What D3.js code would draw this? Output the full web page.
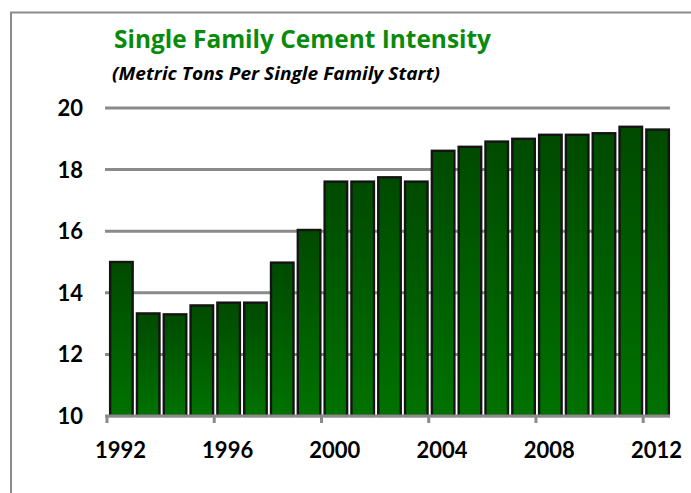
<!DOCTYPE html>
<html>
<head>
<meta charset="utf-8">
<script src="https://cdn.jsdelivr.net/npm/d3@7"></script>
<style>
  body { margin: 0; background: #fff; }
  svg { display: block; }
</style>
</head>
<body>
<div id="chart"></div>
<script>
const years = d3.range(1992, 2013).map(String);
const intensity = [15.0, 13.33, 13.3, 13.59, 13.68, 13.68, 14.98, 16.04, 17.61, 17.61,
  17.75, 17.61, 18.61, 18.74, 18.91, 19.0, 19.13, 19.13, 19.18, 19.39, 19.3];
const yTicks = [10, 12, 14, 16, 18, 20];
const xLabels = ['1992', '1996', '2000', '2004', '2008', '2012'];

const width = 691;
const height = 493;
const margin = { top: 108, right: 21, bottom: 77, left: 107 };

const svg = d3.select('#chart')
  .append('svg')
  .attr('width', width)
  .attr('height', height);

const defs = svg.append('defs');
const grad = defs.append('linearGradient')
  .attr('id', 'barGrad')
  .attr('x1', 0).attr('x2', 0)
  .attr('y1', 0).attr('y2', 1);
grad.append('stop').attr('offset', '0%').attr('stop-color', '#004a00');
grad.append('stop').attr('offset', '100%').attr('stop-color', '#007200');

// outer frame (only left and top edges visible)
svg.append('rect')
  .attr('x', 11).attr('y', 12.5)
  .attr('width', width + 20).attr('height', height + 20)
  .attr('fill', 'none')
  .attr('stroke', '#8c8c8c')
  .attr('stroke-width', 2);

const x = d3.scaleBand()
  .domain(years)
  .range([margin.left, width - margin.right])
  .paddingInner(0.16)
  .paddingOuter(0.08);

const y = d3.scaleLinear()
  .domain([10, 20])
  .range([height - margin.bottom, margin.top]);

// gridlines
svg.append('g')
  .selectAll('line')
  .data(yTicks.filter(d => d > 10))
  .join('line')
  .attr('x1', margin.left - 2)
  .attr('x2', width - margin.right)
  .attr('y1', d => y(d))
  .attr('y2', d => y(d))
  .attr('stroke', '#8a8a8a')
  .attr('stroke-width', 3);

// bars
svg.append('g')
  .selectAll('rect')
  .data(intensity)
  .join('rect')
  .attr('x', (d, i) => x(years[i]) + 1)
  .attr('y', d => y(d))
  .attr('width', x.bandwidth())
  .attr('height', d => y(10) - y(d))
  .attr('fill', 'url(#barGrad)')
  .attr('stroke', '#141414')
  .attr('stroke-width', 2.4);

// x axis line and ticks
svg.append('line')
  .attr('x1', margin.left - 2).attr('x2', width - margin.right)
  .attr('y1', y(10)).attr('y2', y(10))
  .attr('stroke', '#8a8a8a')
  .attr('stroke-width', 3);

const tickX = d => x(d) - x.step() * x.paddingInner() / 2;
svg.append('g')
  .selectAll('line')
  .data(xLabels)
  .join('line')
  .attr('x1', tickX)
  .attr('x2', tickX)
  .attr('y1', y(10))
  .attr('y2', y(10) + 7)
  .attr('stroke', '#8a8a8a')
  .attr('stroke-width', 3);

// x labels
svg.append('g')
  .selectAll('text')
  .data(xLabels)
  .join('text')
  .attr('x', d => tickX(d) + x.step() / 2)
  .attr('y', 458)
  .attr('text-anchor', 'middle')
  .attr('font-family', 'Lato, sans-serif')
  .attr('font-weight', 'bold')
  .attr('font-size', 22)
  .attr('fill', '#000')
  .text(d => d);

// y labels
svg.append('g')
  .selectAll('text')
  .data(yTicks)
  .join('text')
  .attr('x', 83)
  .attr('y', d => y(d))
  .attr('dy', '0.36em')
  .attr('text-anchor', 'end')
  .attr('font-family', 'Lato, sans-serif')
  .attr('font-weight', 'bold')
  .attr('font-size', 22)
  .attr('fill', '#000')
  .text(d => d);

// titles
svg.append('text')
  .attr('x', 114)
  .attr('y', 48)
  .attr('font-family', '"Open Sans", sans-serif')
  .attr('font-weight', 'bold')
  .attr('font-size', 25)
  .attr('fill', '#0a8a0a')
  .attr('textLength', 377)
  .attr('lengthAdjust', 'spacingAndGlyphs')
  .text('Single Family Cement Intensity');

svg.append('text')
  .attr('x', 112)
  .attr('y', 80)
  .attr('font-family', '"Open Sans", sans-serif')
  .attr('font-weight', 'bold')
  .attr('font-style', 'italic')
  .attr('font-size', 17)
  .attr('fill', '#000')
  .attr('textLength', 328)
  .attr('lengthAdjust', 'spacingAndGlyphs')
  .text('(Metric Tons Per Single Family Start)');
</script>
</body>
</html>
